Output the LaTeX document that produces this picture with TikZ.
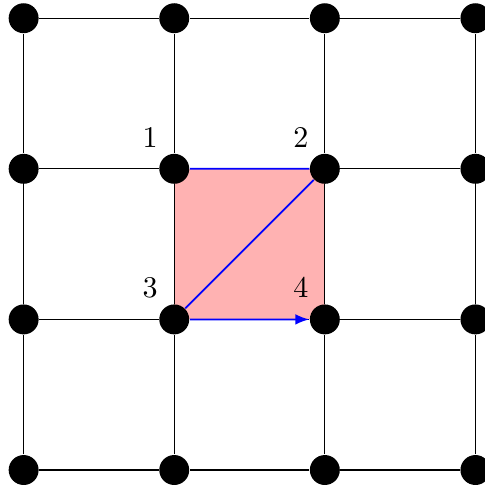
\documentclass[tikz,border=0pt]{standalone}
\tikzset{
    dot/.style={circle,fill=black,inner sep=0pt,minimum size=3.5mm},
    num/.style={above left, xshift=1.7pt},
}
\begin{document}
\begin{tikzpicture}[x=1.76cm,y=1.76cm]
        \useasboundingbox (-0.157,-0.146) rectangle (3.06,3.121);
        \fill[red!30] (1,1) rectangle (2,2);
        \foreach \i in {0,...,3}
            \foreach \j in {0,...,3}
                \node[dot] (p\i\j) at (\i,\j) {};
        \foreach \i in {0,...,3}
            \foreach \j [count=\k] in {0,...,2}
                {\draw (p\i\j) -- (p\i\k);
                 \draw (p\j\i) -- (p\k\i);}
        \node[num] (n1) at (p12.north west) {1};
        \node[num] (n2) at (p22.north west) {2};
        \node[num] (n3) at (p11.north west) {3};
        \node[num] (n4) at (p21.north west) {4};
        \draw[blue, semithick, -latex] (p12) -- (p22) -- (p11) -- (p21);
    \end{tikzpicture}
\end{document}
